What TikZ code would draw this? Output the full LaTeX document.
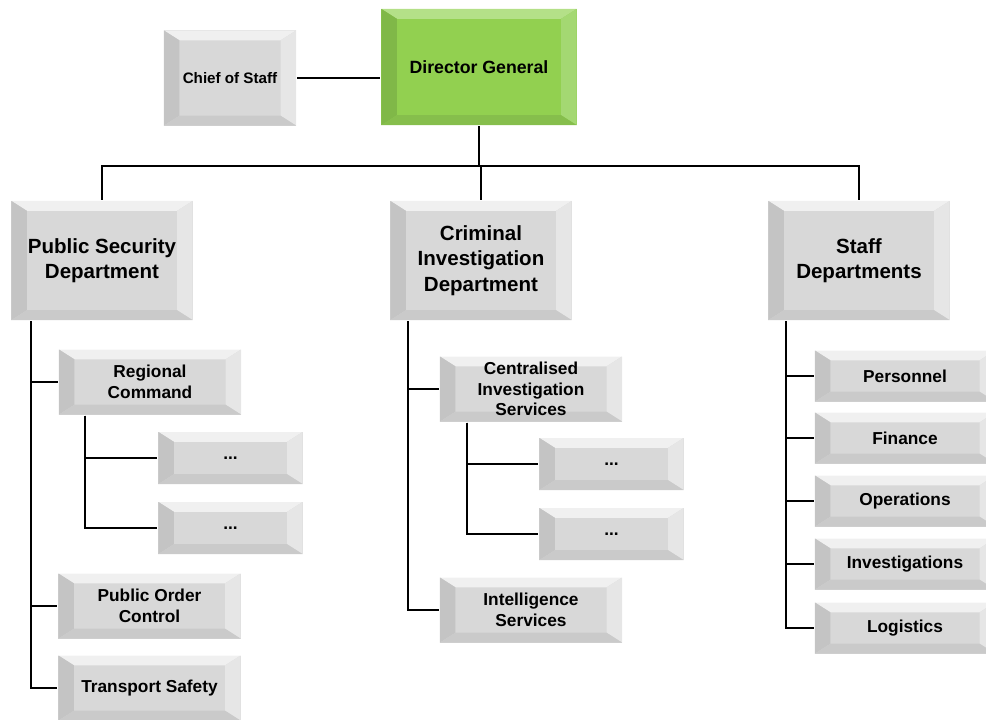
\documentclass[tikz,border=0pt]{standalone}
\usepackage{fontspec}
\setmainfont{Liberation Sans}
\definecolor{facegray}{HTML}{D8D8D8}
\definecolor{topgray}{HTML}{F0F0F0}
\definecolor{leftgray}{HTML}{C4C4C4}
\definecolor{rightgray}{HTML}{E6E6E6}
\definecolor{botgray}{HTML}{CACACA}
\definecolor{facegreen}{HTML}{92D050}
\definecolor{topgreen}{HTML}{B4E088}
\definecolor{leftgreen}{HTML}{80B848}
\definecolor{rightgreen}{HTML}{A4D872}
\definecolor{botgreen}{HTML}{86BE4C}
\newcommand\bevelfaces[4]{%
  \path (path picture bounding box.north west) coordinate (bnw)
        (path picture bounding box.north east) coordinate (bne)
        (path picture bounding box.south west) coordinate (bsw)
        (path picture bounding box.south east) coordinate (bse);
  \fill[#1] (bnw) -- (bne) -- ([shift={(-11pt,-7pt)}]bne) -- ([shift={(11pt,-7pt)}]bnw) -- cycle;
  \fill[#2] (bnw) -- ([shift={(11pt,-7pt)}]bnw) -- ([shift={(11pt,7pt)}]bsw) -- (bsw) -- cycle;
  \fill[#3] (bne) -- ([shift={(-11pt,-7pt)}]bne) -- ([shift={(-11pt,7pt)}]bse) -- (bse) -- cycle;
  \fill[#4] (bsw) -- ([shift={(11pt,7pt)}]bsw) -- ([shift={(-11pt,7pt)}]bse) -- (bse) -- cycle;}

\begin{document}
\begin{tikzpicture}[x=0.025cm, y=-0.025cm, line width=0.05cm,
  every node/.style = {shape=rectangle, align=center, inner sep=2pt,
    font=\bfseries\fontsize{12.3}{14.7}\selectfont},
  graybox/.style = {fill=facegray,
    path picture={\bevelfaces{topgray}{leftgray}{rightgray}{botgray}}},
  greenbox/.style = {fill=facegreen,
    path picture={\bevelfaces{topgreen}{leftgreen}{rightgreen}{botgreen}}},
  deptbox/.style = {graybox, minimum width=4.525cm, minimum height=2.975cm,
    font=\bfseries\fontsize{14.6}{18}\selectfont},
  unitbox/.style = {graybox, minimum width=4.55cm, minimum height=1.625cm},
  dotbox/.style = {graybox, minimum width=3.6cm, minimum height=1.3cm},
  staffbox/.style = {graybox, minimum width=4.5cm, minimum height=1.275cm}]
  \useasboundingbox (0,0) rectangle (986,719);
  \clip (0,0) rectangle (986,719);

  \node[greenbox, minimum width=4.875cm, minimum height=2.9cm,
    font=\bfseries\fontsize{12.6}{15}\selectfont] (dg) at (479,67) {Director General};
  \node[graybox, minimum width=3.3cm, minimum height=2.375cm,
    font=\bfseries\fontsize{10.8}{13}\selectfont] (cos) at (230,78) {Chief of Staff};

  \node[deptbox] (psd) at (102,260.5) {Public Security\\Department};
  \node[deptbox] (cid) at (481,260.5) {Criminal\\Investigation\\Department};
  \node[deptbox] (sd) at (859,260.5) {Staff\\Departments};

  \node[unitbox] (rc) at (150,382) {Regional\\Command};
  \node[dotbox] (rc1) at (230.5,458) {...};
  \node[dotbox] (rc2) at (230.5,528) {...};
  \node[unitbox] (poc) at (149.5,606) {Public Order\\Control};
  \node[unitbox] (ts) at (149.5,688) {Transport Safety};

  \node[unitbox] (cis) at (531,389) {Centralised\\Investigation\\Services};
  \node[dotbox] (cis1) at (611.5,464) {...};
  \node[dotbox] (cis2) at (611.5,534) {...};
  \node[unitbox] (is) at (531,610) {Intelligence\\Services};

  \node[staffbox] (pers) at (905,376) {Personnel};
  \node[staffbox] (fin) at (905,438) {Finance};
  \node[staffbox] (ops) at (905,501) {Operations};
  \node[staffbox] (inv) at (905,564) {Investigations};
  \node[staffbox] (log) at (905,628) {Logistics};

  \coordinate (pst) at (31,0);
  \coordinate (rct) at (85,0);
  \coordinate (cit) at (408,0);
  \coordinate (cist) at (467,0);
  \coordinate (sdt) at (786,0);

  \draw (cos.east) -- (dg.west |- cos.east);
  \draw (dg.south) -- ++(0,40) -| (psd.north);
  \draw (dg.south) -- ++(0,40) -| (cid.north);
  \draw (dg.south) -- ++(0,40) -| (sd.north);

  \foreach \n in {rc, poc, ts}
    \draw (pst |- psd.south) |- (\n.west);
  \foreach \n in {rc1, rc2}
    \draw (rct |- rc.south) |- (\n.west);
  \foreach \n in {cis, is}
    \draw (cit |- cid.south) |- (\n.west);
  \foreach \n in {cis1, cis2}
    \draw (cist |- cis.south) |- (\n.west);
  \foreach \n in {pers, fin, ops, inv, log}
    \draw (sdt |- sd.south) |- (\n.west);
\end{tikzpicture}
\end{document}
